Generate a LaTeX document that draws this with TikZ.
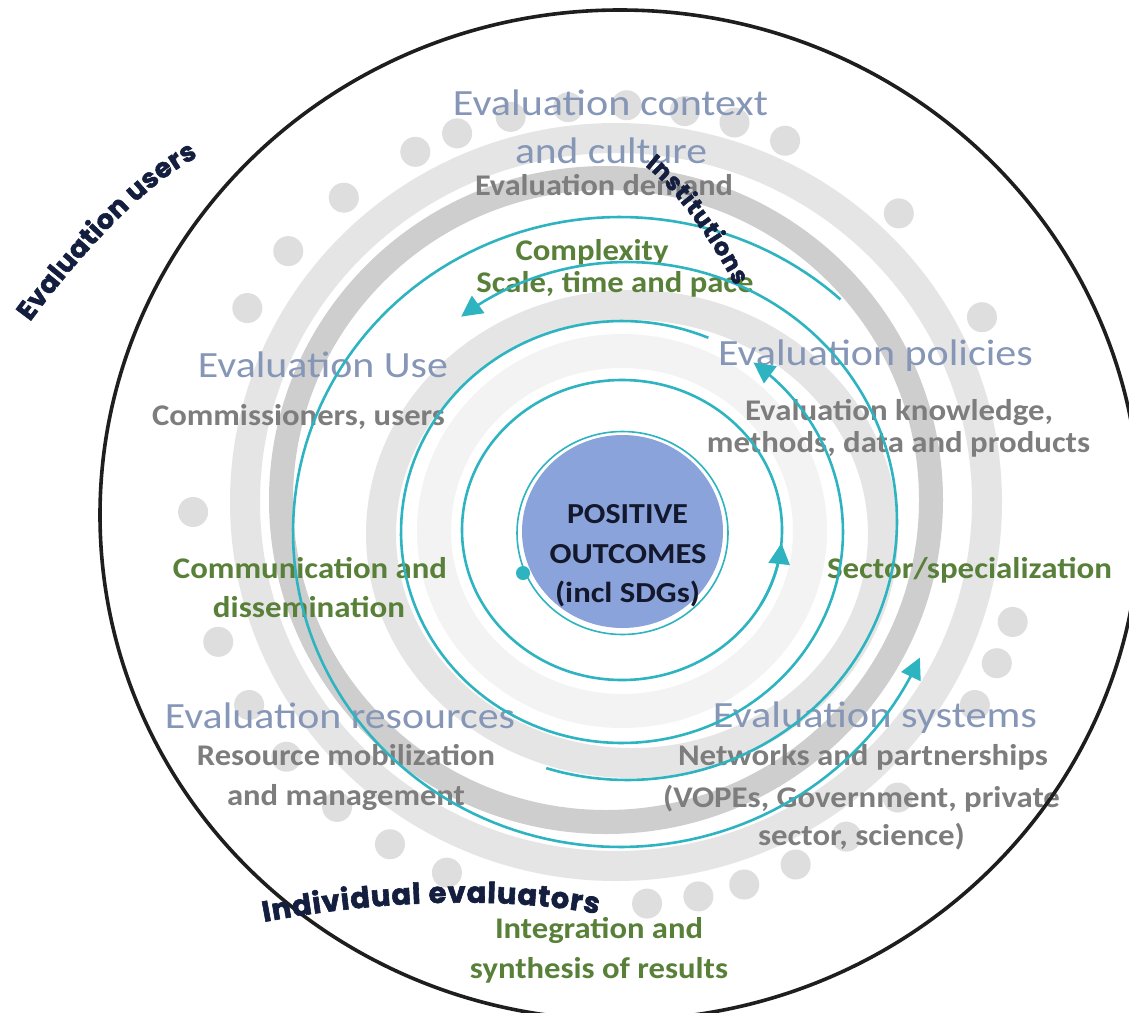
\documentclass[tikz,border=0pt]{standalone}
\usepackage{fontspec}
\setmainfont{Carlito}
\newfontfamily\roundf{Poppins}[BoldFeatures={FakeBold=2}]
\usetikzlibrary{arrows.meta,decorations.text}
\definecolor{headc}{RGB}{133,150,182}
\definecolor{subc}{RGB}{125,125,125}
\definecolor{grnc}{RGB}{88,128,56}
\definecolor{navyc}{RGB}{20,30,62}
\definecolor{ctrc}{RGB}{20,24,45}
\definecolor{discc}{RGB}{138,163,218}
\definecolor{tealc}{RGB}{45,180,192}
\definecolor{bandd}{RGB}{206,206,206}
\definecolor{bandl}{RGB}{229,229,229}
\definecolor{bandf}{RGB}{243,243,243}
\definecolor{dotc}{RGB}{222,222,222}
\definecolor{rimc}{RGB}{30,30,30}
\newcommand{\fw}[2]{\resizebox{#1pt}{\height}{#2}}
\begin{document}
\begin{tikzpicture}[x=1pt,y=-1pt,
  head/.style={text=headc,font=\fontsize{37}{37}\selectfont,anchor=base,inner sep=0pt},
  sub/.style={text=subc,font=\bfseries\fontsize{30}{30}\selectfont,anchor=base,inner sep=0pt},
  grn/.style={text=grnc,font=\bfseries\fontsize{30}{30}\selectfont,anchor=base,inner sep=0pt},
  ctr/.style={text=ctrc,font=\bfseries\fontsize{29}{29}\selectfont,anchor=base,inner sep=0pt},
  tealline/.style={draw=tealc,line width=2.6pt},
  tip/.style={-{Triangle[length=21pt,width=21pt]}},
  navytext/.style={decorate,decoration={text along path,text color=navyc,text align={fit to path}}}
]
\useasboundingbox (0,0) rectangle (1129,1012);
\clip (0,0) rectangle (1129,1012);
\fill[white] (0,0) rectangle (1129,1012);

% grey bands
\draw[bandl,line width=30pt] (616,502) ellipse [x radius=371pt, y radius=364pt];
\draw[bandd,line width=24pt] (606,500) ellipse [x radius=325pt, y radius=322pt];
\draw[bandl,line width=30pt] (632,534) ellipse [x radius=251pt, y radius=229pt];
\draw[bandf,line width=34pt] (622,531) ellipse [x radius=188pt, y radius=180pt];

% dots
\foreach \a in {181,200,210,219,229,238,246.8,274.8,281.9,288.4,296,304,313,330,336.7,343,28,46.8,65.6,73,80,88,96,104,111.7,118,129.8,140.6,150.5}
  \fill[dotc] ({612+419*cos(\a)},{505-400*sin(\a)}) circle[radius=15pt];

% headings
\node[head] (ctx1) at (610.5,115) {\fw{315}{Evaluation context}};
\node[head] (ctx2) at (611,163) {\fw{192}{and culture}};
\node[head] (use) at (323,377) {\fw{250}{Evaluation Use}};
\node[head] (pol) at (875.5,365) {\fw{315}{Evaluation policies}};
\node[head] (res) at (340,728) {\fw{350}{Evaluation resources}};
\node[head] (sys) at (875,727) {\fw{324}{Evaluation systems}};

% grey sub texts
\node[sub] (dem) at (604,195) {\fw{258}{Evaluation demand}};
\node[sub] (com) at (298.5,425) {\fw{293}{Commissioners, users}};
\node[sub] (kn1) at (899,420) {\fw{308}{Evaluation knowledge,}};
\node[sub] (kn2) at (898.5,452) {\fw{383}{methods, data and products}};
\node[sub] (rm1) at (346,765) {\fw{298}{Resource mobilization}};
\node[sub] (rm2) at (346,805) {\fw{238}{and management}};
\node[sub] (nw1) at (863,765) {\fw{370}{Networks and partnerships}};
\node[sub] (nw2) at (861.5,807) {\fw{397}{(VOPEs, Government, private}};
\node[sub] (nw3) at (861.5,845) {\fw{207}{sector, science)}};

% green texts
\node[grn] (cplx) at (592,260) {\fw{153}{Complexity}};
\node[grn] (stp) at (615,292) {\fw{277}{Scale, time and pace}};
\node[grn] (cd1) at (310,578) {\fw{274}{Communication and}};
\node[grn] (cd2) at (309,617) {\fw{192}{dissemination}};
\node[grn] (sec) at (969.5,578) {\fw{285}{Sector/specialization}};
\node[grn] (int1) at (599,938) {\fw{208}{Integration and}};
\node[grn] (int2) at (599,978) {\fw{258}{synthesis of results}};

% teal spiral arcs
\draw[tealline] (622,530) ellipse [x radius=160pt, y radius=150pt];
\draw[tealline,tip] plot[domain=-30:-5,samples=20] ({622+160*cos(\x)},{530-150*sin(\x)});
\draw[tealline,tip] plot[domain=67:413.5,samples=150] ({622+221*cos(\x)},{532-211*sin(\x)});
\draw[tealline,tip] plot[domain=-107.4:127.9,samples=120] ({627+270*cos(\x)},{521-259*sin(\x)});
\draw[tealline,tip] plot[domain=47.6:336.5,samples=150] ({620+327*cos(\x)},{532-315*sin(\x)});

% outer rim
\draw[rimc,line width=3.6pt] (620,515) ellipse [x radius=520pt, y radius=505pt];

% centre disc
\draw[tealc,line width=1.6pt] (622.5,533) ellipse [x radius=105.5pt, y radius=101.5pt];
\fill[discc] (622.5,531.5) ellipse [x radius=100.5pt, y radius=96.5pt];
\fill[tealc] (523,573) circle[radius=7pt];
\node[ctr] (pos1) at (627.5,523) {\fw{121}{POSITIVE}};
\node[ctr] (pos2) at (628,563) {\fw{157}{OUTCOMES}};
\node[ctr] (pos3) at (627.5,602) {\fw{145}{(incl SDGs)}};

% curved navy labels
\path[navytext,decoration={text={|\roundf\bfseries\fontsize{27}{27}\selectfont|Evaluation users}}]
  (30,322) .. controls (70,268) and (140,186) .. (198,157);
\path[navytext,decoration={text={|\roundf\bfseries\fontsize{24}{24}\selectfont|Institutions}}]
  (645,166) .. controls (678,192) and (716,248) .. (735,286);
\path[navytext,decoration={text={|\roundf\bfseries\fontsize{29}{29}\selectfont|Individual evaluators}}]
  (264,922) .. controls (380,900) and (500,896) .. (598,914);
\end{tikzpicture}
\end{document}
